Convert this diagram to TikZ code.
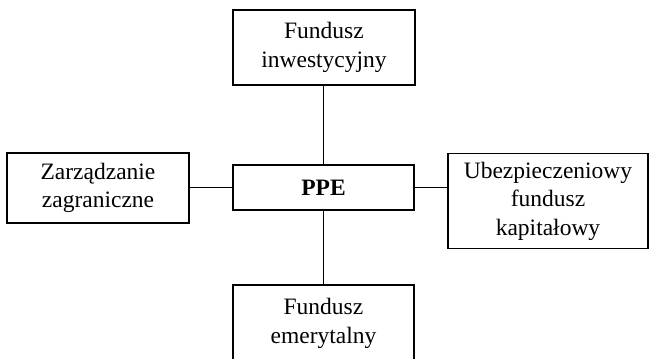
\documentclass[tikz,border=0pt]{standalone}
\usepackage{fontspec}
\setmainfont{Liberation Serif}

\begin{document}
\begin{tikzpicture}[x=1pt, y=-1pt,
    box/.style={draw, rectangle, line width=1.2pt, align=center, inner sep=2pt,
                font=\fontsize{23.5}{28.5}\selectfont},
    link/.style={line width=1.2pt}]
    \useasboundingbox (0,0) rectangle (649,359);

    % Central unit
    \node[box, minimum width=181pt, minimum height=45pt, font=\fontsize{23.5}{28.5}\selectfont\bfseries] (ppe) at (323.5,187.5) {PPE};

    % Surrounding boxes
    \node[box, minimum width=182pt, minimum height=75pt] (fi) at (324,47.5) {Fundusz\\inwestycyjny};
    \node[box, minimum width=182pt, minimum height=70pt] (za) at (98,188) {Zarządzanie\\zagraniczne};
    \node[box, minimum width=200pt, minimum height=95pt] (ub) at (548,201) {Ubezpieczeniowy\\fundusz\\kapitałowy};
    \node[box, minimum width=181pt, minimum height=77pt] (fe) at (323.5,323.5) {Fundusz\\emerytalny};

    % Connections
    \draw[link] (ppe.north) -- (ppe.north |- fi.south);
    \draw[link] (ppe.south) -- (ppe.south |- fe.north);
    \draw[link] (ppe.west) -- (ppe.west -| za.east);
    \draw[link] (ppe.east) -- (ppe.east -| ub.west);
\end{tikzpicture}
\end{document}
